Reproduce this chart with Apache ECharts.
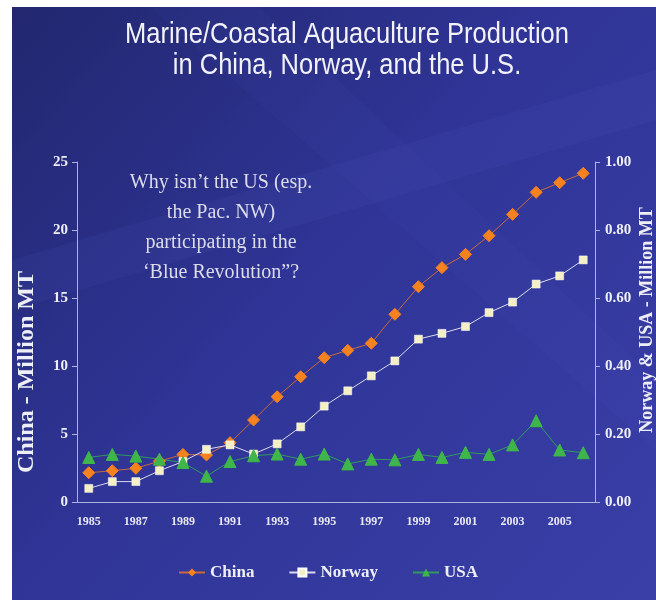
<!DOCTYPE html>
<html>
<head>
<meta charset="utf-8">
<title>Marine/Coastal Aquaculture Production</title>
<script src="https://cdn.jsdelivr.net/npm/echarts@6/dist/echarts.min.js"></script>
<style>
  html, body { margin: 0; padding: 0; background: #fff; }
  #chart { width: 656px; height: 600px; }
</style>
</head>
<body>
<div id="chart"></div>
<script>
// data (China on left axis, Norway & USA on right axis)
var years = ['1985','1986','1987','1988','1989','1990','1991','1992','1993','1994','1995',
             '1996','1997','1998','1999','2000','2001','2002','2003','2004','2005','2006'];
var china  = [2.15, 2.3, 2.48, 3.0, 3.5, 3.46, 4.36, 6.03, 7.74, 9.21, 10.61,
              11.15, 11.67, 13.8, 15.83, 17.23, 18.21, 19.58, 21.15, 22.77, 23.48, 24.17];
var norway = [0.04, 0.06, 0.06, 0.092, 0.119, 0.155, 0.168, 0.141, 0.171, 0.221, 0.282,
              0.327, 0.371, 0.415, 0.479, 0.496, 0.516, 0.557, 0.588, 0.641, 0.665, 0.712];
var usa    = [0.131, 0.14, 0.135, 0.126, 0.116, 0.076, 0.119, 0.136, 0.141, 0.126, 0.141,
              0.112, 0.126, 0.124, 0.14, 0.131, 0.146, 0.14, 0.168, 0.239, 0.153, 0.145];

var titleLines = ['Marine/Coastal Aquaculture Production', 'in China, Norway, and the U.S.'];
var noteLines = ['Why isn\u2019t the US (esp.', 'the Pac. NW)', 'participating in the', '\u2018Blue Revolution\u201d?'];

var serif = '"Liberation Serif", "Times New Roman", serif';
var axisColor = '#aeb2e0';

var myChart = echarts.init(document.getElementById('chart'));

var option = {
    backgroundColor: '#ffffff',
    animation: false,
    graphic: [
        {
            type: 'rect',
            z: -10,
            silent: true,
            shape: { x: 12, y: 7, width: 644, height: 593 },
            style: {
                fill: new echarts.graphic.LinearGradient(0, 0, 1, 1, [
                    { offset: 0, color: '#22276f' },
                    { offset: 0.45, color: '#2f3496' },
                    { offset: 1, color: '#3a3fa8' }
                ])
            }
        },
        // faint light streaks of the slide background
        {
            type: 'polygon', z: -9, silent: true,
            shape: { points: [[12, 260], [656, 70], [656, 120], [12, 310]] },
            style: { fill: 'rgba(120,130,230,0.06)' }
        },
        {
            type: 'polygon', z: -9, silent: true,
            shape: { points: [[150, 7], [260, 7], [656, 380], [656, 450]] },
            style: { fill: 'rgba(90,100,210,0.06)' }
        },
        // slide title (narrow face imitated with a horizontal squeeze)
        {
            type: 'text',
            z: 10,
            x: 347,
            y: 19,
            scaleX: 0.88,
            style: {
                text: titleLines.join('\n'),
                align: 'center',
                verticalAlign: 'top',
                fill: '#f2f2f8',
                font: 'normal 29px "Liberation Sans", Arial, sans-serif',
                lineHeight: 31,
                shadowColor: 'rgba(10,10,50,0.8)',
                shadowOffsetX: 2,
                shadowOffsetY: 2,
                shadowBlur: 2
            }
        },
        {
            type: 'text',
            z: 10,
            x: 221,
            y: 168,
            style: {
                text: noteLines.join('\n'),
                align: 'center',
                verticalAlign: 'top',
                fill: '#dcdcea',
                font: 'normal 20px ' + serif,
                lineHeight: 30
            }
        }
    ],
    legend: {
        top: 559,
        left: 'center',
        itemWidth: 26,
        itemHeight: 10,
        itemGap: 34,
        textStyle: {
            color: '#eeeef6',
            fontFamily: serif,
            fontWeight: 'bold',
            fontSize: 17
        },
        data: ['China', 'Norway', 'USA']
    },
    grid: {
        left: 77,
        right: 61,
        top: 162,
        bottom: 98,
        containLabel: false,
        outerBoundsMode: 'none'
    },
    xAxis: {
        type: 'category',
        data: years,
        axisLine: { lineStyle: { color: axisColor, width: 1 } },
        axisTick: { length: 4, lineStyle: { color: axisColor } },
        axisLabel: {
            interval: 1,
            margin: 14,
            color: '#e8e8f2',
            fontFamily: serif,
            fontWeight: 'bold',
            fontSize: 12
        }
    },
    yAxis: [
        {
            type: 'value',
            min: 0,
            max: 25,
            interval: 5,
            name: 'China - Million MT',
            nameLocation: 'middle',
            nameRotate: 90,
            nameGap: 38,
            nameMoveOverlap: false,
            nameTextStyle: {
                color: '#eeeef6',
                fontFamily: serif,
                fontWeight: 'bold',
                fontSize: 24,
                padding: [0, 80, 0, 0]
            },
            axisLine: { show: true, lineStyle: { color: axisColor } },
            axisTick: { show: true, length: 5, lineStyle: { color: axisColor } },
            splitLine: { show: false },
            axisLabel: {
                margin: 9,
                color: '#eeeef6',
                fontFamily: serif,
                fontWeight: 'bold',
                fontSize: 15
            }
        },
        {
            type: 'value',
            min: 0,
            max: 1,
            interval: 0.2,
            name: 'Norway & USA - Million MT',
            nameLocation: 'middle',
            nameRotate: 90,
            nameGap: 43,
            nameMoveOverlap: false,
            nameTextStyle: {
                color: '#eeeef6',
                fontFamily: serif,
                fontWeight: 'bold',
                fontSize: 18,
                padding: [0, 0, 0, 24]
            },
            axisLine: { show: true, lineStyle: { color: axisColor } },
            axisTick: { show: true, length: 5, lineStyle: { color: axisColor } },
            splitLine: { show: false },
            axisLabel: {
                margin: 10,
                color: '#eeeef6',
                fontFamily: serif,
                fontWeight: 'bold',
                fontSize: 15,
                formatter: function (v) { return v.toFixed(2); }
            }
        }
    ],
    series: [
        {
            name: 'China',
            type: 'line',
            yAxisIndex: 0,
            data: china,
            symbol: 'diamond',
            symbolSize: 12,
            lineStyle: { color: '#c8683c', width: 1 },
            itemStyle: { color: '#f5821f', borderColor: '#f5821f' }
        },
        {
            name: 'Norway',
            type: 'line',
            yAxisIndex: 1,
            data: norway,
            symbol: 'rect',
            symbolSize: 8,
            lineStyle: { color: '#dcdcec', width: 1 },
            itemStyle: { color: '#f4f0c4', borderColor: '#ffffff', borderWidth: 0.5 }
        },
        {
            name: 'USA',
            type: 'line',
            yAxisIndex: 1,
            data: usa,
            symbol: 'triangle',
            symbolSize: 12,
            lineStyle: { color: '#2f9a5e', width: 1 },
            itemStyle: { color: '#3fb64a', borderColor: '#3fb64a' }
        }
    ]
};

myChart.setOption(option);
</script>
</body>
</html>
